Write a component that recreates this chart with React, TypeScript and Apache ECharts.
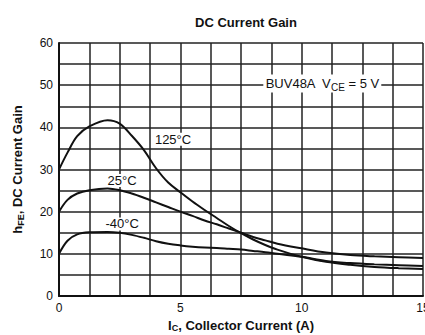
import React, { useEffect, useRef } from "react";
import * as echarts from "echarts";

const currentA: number[] = [0, 0.35, 0.75, 1.25, 2, 2.5, 3, 3.5, 4, 4.5, 5, 5.5, 6, 6.5, 7, 7.5, 8, 8.5, 9, 10, 11, 12, 13, 14, 15];
const gain125: number[] = [30, 34, 37.9, 40.2, 41.7, 40.9, 38, 34.6, 30.3, 26.9, 24.6, 22.4, 20.4, 18.5, 16.6, 14.9, 13.4, 12.1, 11.0, 9.3, 8.1, 7.4, 6.9, 6.6, 6.4];
const gain25: number[] = [20, 22.8, 24.3, 25.1, 25.5, 25.1, 24.3, 23.3, 22.2, 21.1, 20.0, 19.0, 17.9, 17.0, 16.0, 15.0, 14.0, 13.2, 12.4, 11.3, 10.3, 9.7, 9.4, 9.2, 9.0];
const gainM40: number[] = [10, 13.1, 14.6, 15.1, 15.2, 15.0, 14.5, 13.8, 13.0, 12.4, 12.0, 11.7, 11.5, 11.4, 11.2, 11.0, 10.7, 10.4, 10.0, 9.3, 8.3, 7.8, 7.5, 7.3, 7.1];

const seriesNames: string[] = ["125°C", "25°C", "-40°C"];
const labelAnchors: [number, number][] = [[4.7, 37.2], [2.6, 27.4], [2.6, 17.1]];

const xTickLabels: number[] = [0, 5, 10, 15];
const yTickLabels: number[] = [0, 10, 20, 30, 40, 50, 60];

const FONT = "'Liberation Sans', Arial, sans-serif";
const INK = "#111";

export default function App() {
  const ref = useRef<HTMLDivElement>(null);
  useEffect(() => {
    if (!ref.current) return;
    const chart = echarts.init(ref.current, undefined, { renderer: "svg" });
    const mk = (vals: number[]) => currentA.map((x, i) => [x, vals[i]]);
    const lineSeries = [gain125, gain25, gainM40].map((vals, i) => ({
      name: seriesNames[i],
      type: "line",
      data: mk(vals),
      smooth: 0.35,
      showSymbol: false,
      lineStyle: { color: INK, width: 2 },
      z: 5,
    }));
    chart.setOption({
      animation: false,
      backgroundColor: "#fff",
      title: {
        text: "DC Current Gain",
        left: 241,
        textAlign: "center",
        top: 11,
        textStyle: { fontFamily: FONT, fontSize: 13, fontWeight: "bold", color: INK },
      },
      grid: { left: 59, top: 43, right: 2, bottom: 39, outerBoundsMode: "none", containLabel: false },
      xAxis: {
        type: "value",
        min: 0,
        max: 15,
        interval: 1.25,
        axisLine: { show: true, lineStyle: { color: INK, width: 2 } },
        axisTick: { show: false },
        splitLine: { show: true, lineStyle: { color: "#222", width: 1.5 } },
        axisLabel: {
          fontFamily: FONT,
          fontSize: 12,
          color: INK,
          margin: 6,
          formatter: (v: number) => (xTickLabels.indexOf(v) >= 0 ? String(v) : ""),
        },
        name: "{b|I}{s|C}{b|, Collector Current (A)}",
        nameLocation: "middle",
        nameGap: 22,
        nameTextStyle: {
          rich: {
            b: { fontFamily: FONT, fontSize: 13, fontWeight: "bold", color: INK },
            s: { fontFamily: FONT, fontSize: 9, fontWeight: "bold", color: INK, verticalAlign: "bottom", padding: [5, 0, 0, 0] },
          },
        },
      },
      yAxis: {
        type: "value",
        min: 0,
        max: 60,
        interval: 5,
        axisLine: { show: true, lineStyle: { color: INK, width: 2 } },
        axisTick: { show: false },
        splitLine: { show: true, lineStyle: { color: "#222", width: 1.5 } },
        axisLabel: {
          fontFamily: FONT,
          fontSize: 12,
          color: INK,
          margin: 6,
          formatter: (v: number) => (yTickLabels.indexOf(v) >= 0 ? String(v) : ""),
        },
        name: "{b|h}{s|FE}{b|, DC Current Gain}",
        nameLocation: "middle",
        nameGap: 34,
        nameRotate: 90,
        nameTextStyle: {
          rich: {
            b: { fontFamily: FONT, fontSize: 13, fontWeight: "bold", color: INK },
            s: { fontFamily: FONT, fontSize: 9, fontWeight: "bold", color: INK, verticalAlign: "bottom", padding: [6, 0, 0, 0] },
          },
        },
      },
      series: lineSeries,
    });

    const labels = labelAnchors.map((p, i) => {
      const px = chart.convertToPixel({ gridIndex: 0 }, p) as number[];
      return {
        type: "text",
        x: px[0],
        y: px[1],
        z: 10,
        style: {
          text: seriesNames[i],
          fontFamily: FONT,
          fontSize: 13,
          fill: INK,
          align: "center",
          verticalAlign: "middle",
          backgroundColor: "#fff",
          padding: [0, 2, 0, 2],
        },
      };
    });
    const noteAt = chart.convertToPixel({ gridIndex: 0 }, [10.85, 50.4]) as number[];
    chart.setOption({
      graphic: [
        ...labels,
        {
          type: "text",
          x: noteAt[0],
          y: noteAt[1],
          z: 10,
          style: {
            text: "{n|BUV48A  V}{s|CE}{n| = 5 V}",
            align: "center",
            verticalAlign: "middle",
            backgroundColor: "#fff",
            padding: [0, 2, 0, 2],
            rich: {
              n: { fontFamily: FONT, fontSize: 13, fill: INK, color: INK },
              s: { fontFamily: FONT, fontSize: 10, fill: INK, color: INK, verticalAlign: "bottom", padding: [8, 0, 0, 0] },
            },
          },
        },
      ],
    });
    return () => chart.dispose();
  }, []);
  return <div ref={ref} style={{ width: 425, height: 335, position: "absolute", left: 0, top: 0 }} />;
}
